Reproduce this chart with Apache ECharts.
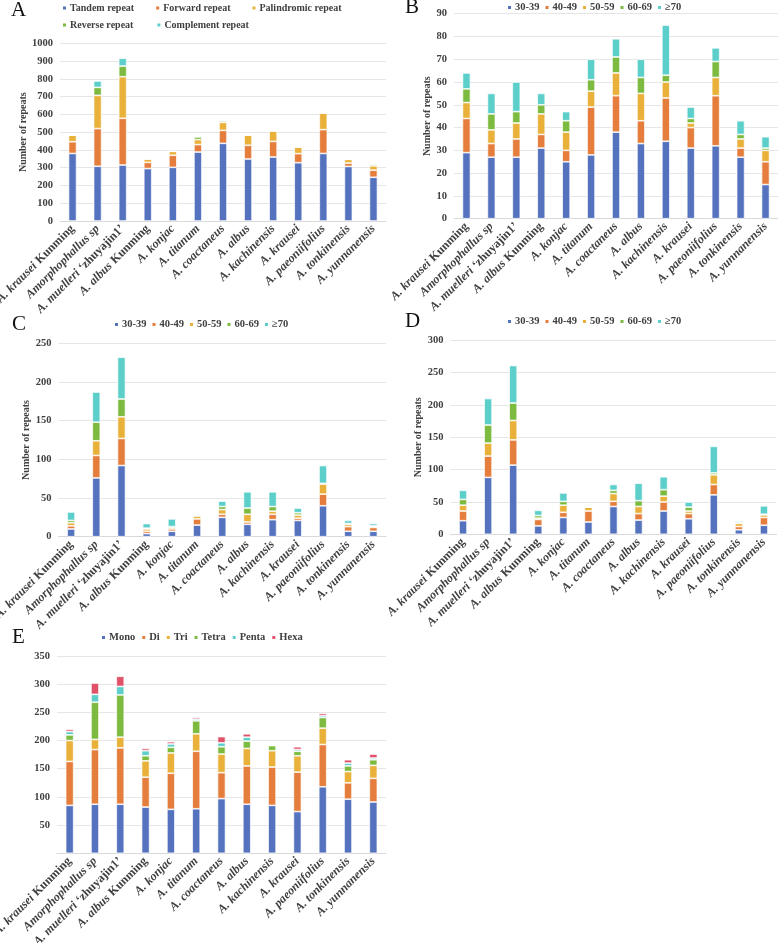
<!DOCTYPE html>
<html>
<head>
<meta charset="utf-8">
<script src="https://cdn.jsdelivr.net/npm/echarts@6/dist/echarts.min.js"></script>
<style>html,body{margin:0;padding:0;background:#fff;}#c{width:778px;height:943px;}</style>
</head>
<body>
<div id="c"></div>
<script>
// ---------- data ----------
const categories = ['A. krausei Kunming','Amorphophallus sp','A. muelleri ‘zhuyajin1’','A. albus Kunming','A. konjac','A. titanum','A. coactaneus','A. albus','A. kachinensis','A. krausei','A. paeoniifolius','A. tonkinensis','A. yunnanensis'];

// Panel A
const namesA = ['Tandem repeat','Forward repeat','Palindromic repeat','Reverse repeat','Complement repeat'];
const tandemRepeat      = [380, 308, 315, 295, 302, 388, 437, 349, 360, 328, 380, 307, 246];
const forwardRepeat     = [66, 212, 263, 35, 68, 42, 73, 77, 88, 51, 134, 19, 40];
const palindromicRepeat = [37, 187, 234, 19, 22, 28, 45, 58, 59, 37, 94, 21, 24];
const reverseRepeat     = [1, 45, 60, 0, 0, 15, 8, 0, 0, 0, 0, 0, 10];
const complementRepeat  = [0, 36, 44, 0, 0, 5, 5, 0, 0, 0, 0, 0, 0];
const ticksA = [0, 1000, 100];

// Length classes (B, C, D)
const namesLen = ['30-39','40-49','50-59','60-69','≥70'];
// Panel B
const b30 = [29,27,27,31,25,28,38,33,34,31,32,27,15];
const b40 = [15,6,8,6,5,21,16,10,19,9,22,4,10];
const b50 = [7,6,7,9,8,7,10,12,7,2,8,4,5];
const b60 = [6,7,5,4,5,5,7,7,3,2,7,2,1];
const b70 = [7,9,13,5,4,9,8,8,22,5,6,6,5];
const ticksB = [0, 90, 10];
// Panel C
const c30 = [10,76,92,4,7,15,25,16,22,21,40,7,7];
const c40 = [4,29,35,3,3,8,4,3,7,3,15,6,5];
const c50 = [4,19,28,3,2,4,6,10,4,4,13,3,1];
const c60 = [3,24,23,1,1,0,4,8,6,3,1,1,1];
const c70 = [11,39,54,6,10,0,7,21,19,6,23,4,3];
const ticksC = [0, 250, 50];
// Panel D
const d30 = [21,88,107,13,26,19,43,22,36,24,61,7,14];
const d40 = [15,33,39,10,8,17,8,10,14,8,16,5,12];
const d50 = [9,20,30,2,11,6,12,11,9,4,15,5,4];
const d60 = [9,28,27,4,6,0,5,9,10,6,3,1,1];
const d70 = [14,41,58,8,13,0,9,27,20,8,41,2,13];
const ticksD = [0, 300, 50];

// Panel E
const namesE = ['Mono','Di','Tri','Tetra','Penta','Hexa'];
const mono  = [85,87,87,82,78,79,97,87,85,74,118,96,91];
const di    = [78,97,100,53,64,102,46,68,68,70,75,29,42];
const tri   = [37,18,19,29,36,31,33,31,29,29,29,20,23];
const tetra = [10,66,75,9,10,23,13,13,9,8,19,10,10];
const penta = [6,14,15,9,6,3,7,7,1,3,3,5,3];
const hexa  = [4,20,18,4,4,3,11,6,1,5,4,6,7];
const ticksE = [0, 350, 50];

const yName = 'Number of repeats';
const panelLetters = ['A','B','C','D','E'];

// ---------- style ----------
const COLORS = ['#5472BE','#E57D3C','#E9B13A','#7CBB3F','#5DCFCB','#E0526A'];
const SERIF = "'Liberation Serif','Times New Roman',serif";
const TXT = '#404040';

const grids = [
  {left: 60,  top: 43.3, width: 326, height: 177.7},
  {left: 454, top: 13.7, width: 324, height: 205},
  {left: 58.5, top: 343.3, width: 327.5, height: 193.4},
  {left: 450.5, top: 340.3, width: 326, height: 194},
  {left: 57,  top: 656, width: 329, height: 197.3}
].map(g => Object.assign({outerBoundsMode: 'none', containLabel: false}, g));
const yNameGaps = [25, 20, 26, 26, 0];
const ticks = [ticksA, ticksB, ticksC, ticksD, ticksE];

function fmtCat(v){
  const m = v.match(/^(.*?)\s+(Kunming|‘.*’)$/);
  if (m) return '{i|' + m[1] + '} {n|' + m[2] + '}';
  return '{i|' + v + '}';
}
const richCat = {
  i: {fontFamily: SERIF, fontSize: 12.2, fontWeight: 'bold', fontStyle: 'italic', color: TXT},
  n: {fontFamily: SERIF, fontSize: 12.2, fontWeight: 'bold', color: TXT}
};

const xAxes = grids.map((g, k) => ({
  type: 'category', gridIndex: k, data: categories,
  axisLine: {lineStyle: {color: '#d9d9d9'}},
  axisTick: {show: false},
  axisLabel: {interval: 0, rotate: 45, margin: 6, formatter: fmtCat, rich: richCat}
}));
const yAxes = grids.map((g, k) => ({
  type: 'value', gridIndex: k, min: ticks[k][0], max: ticks[k][1], interval: ticks[k][2],
  name: k < 4 ? yName : '', nameLocation: 'middle', nameGap: yNameGaps[k], nameRotate: 90,
  nameTextStyle: {fontFamily: SERIF, fontSize: 10, fontWeight: 'bold', color: TXT},
  axisLine: {show: false}, axisTick: {show: false},
  splitLine: {lineStyle: {color: '#e6e6e6'}},
  axisLabel: {margin: 7, fontFamily: SERIF, fontSize: 10.5, fontWeight: 'bold', color: TXT,
    formatter: k === 4 ? (v => v === 0 ? '' : String(v)) : (v => String(v))}
}));

function mk(names, arrs, k){
  return arrs.map((d, i) => ({
    name: names[i], type: 'bar', stack: 'p' + k, xAxisIndex: k, yAxisIndex: k,
    data: d, barWidth: 8,
    itemStyle: {color: COLORS[i], borderColor: '#ffffff', borderWidth: 0.7},
    emphasis: {disabled: true}
  }));
}
const series = [].concat(
  mk(namesA, [tandemRepeat, forwardRepeat, palindromicRepeat, reverseRepeat, complementRepeat], 0),
  mk(namesLen, [b30, b40, b50, b60, b70], 1),
  mk(namesLen, [c30, c40, c50, c60, c70], 2),
  mk(namesLen, [d30, d40, d50, d60, d70], 3),
  mk(namesE, [mono, di, tri, tetra, penta, hexa], 4)
);

function lg(data, left, top, gap, fs){
  return {data: data, left: left, top: top, itemGap: gap, itemWidth: 5, itemHeight: 5, icon: 'rect',
    selectedMode: false, padding: 0,
    textStyle: {fontFamily: SERIF, fontSize: fs, fontWeight: 'bold', color: TXT, padding: [0,0,0,-2]}};
}
const legends = [
  lg(namesA.slice(0,3), 61, 3, 20, 10),
  lg(namesA.slice(3), 61, 20, 22, 10),
  lg(namesLen, 506, 2, 4, 10.5),
  lg(namesLen, 113, 319, 4, 10.5),
  lg(namesLen, 506, 316, 4, 10.5),
  lg(namesE, 100, 632, 5, 10.5)
];

const letterPos = [[11,0],[405,-3],[12,314],[405,311],[12,627]];
const titles = panelLetters.map((t, k) => ({
  text: t, left: letterPos[k][0], top: letterPos[k][1], padding: 0,
  textStyle: {fontFamily: SERIF, fontSize: 21, fontWeight: 'normal', color: '#111'}
}));

const chart = echarts.init(document.getElementById('c'), null, {renderer: 'canvas', width: 778, height: 943});
chart.setOption({
  animation: false,
  backgroundColor: '#ffffff',
  color: COLORS,
  title: titles,
  legend: legends,
  grid: grids,
  xAxis: xAxes,
  yAxis: yAxes,
  series: series
});
</script>
</body>
</html>
